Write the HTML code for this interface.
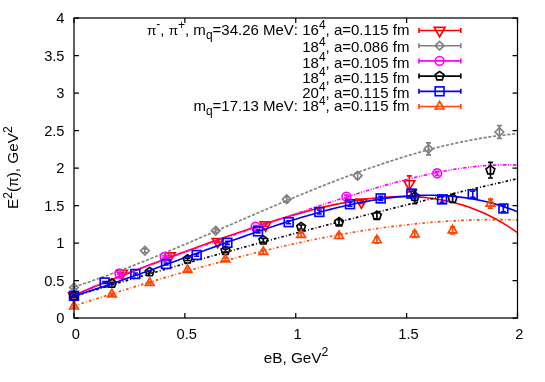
<!DOCTYPE html>
<html><head><meta charset="utf-8"><title>plot</title>
<style>html,body{margin:0;padding:0;background:#fff;}body{width:545px;height:382px;position:relative;overflow:hidden;}</style>
</head><body>
<svg width="545" height="382" viewBox="0 0 545 382" style="position:absolute;left:0;top:0;font-kerning:none" font-family="'Liberation Sans', sans-serif" font-size="14.67px" fill="#000">
<rect x="0" y="0" width="545" height="382" fill="#fff"/>
<path d="M74.0,318.00 h5 M517.5,318.00 h-5 M74.0,280.50 h5 M517.5,280.50 h-5 M74.0,243.00 h5 M517.5,243.00 h-5 M74.0,205.50 h5 M517.5,205.50 h-5 M74.0,168.00 h5 M517.5,168.00 h-5 M74.0,130.50 h5 M517.5,130.50 h-5 M74.0,93.00 h5 M517.5,93.00 h-5 M74.0,55.50 h5 M517.5,55.50 h-5 M74.0,18.00 h5 M517.5,18.00 h-5 M74.00,318.0 v-5 M74.00,18.0 v5 M184.88,318.0 v-5 M184.88,18.0 v5 M295.75,318.0 v-5 M295.75,18.0 v5 M406.62,318.0 v-5 M406.62,18.0 v5 M517.50,318.0 v-5 M517.50,18.0 v5" stroke="#000" stroke-width="1.25" fill="none"/>
<text x="64.5" y="323.20" text-anchor="end">0</text>
<text x="64.5" y="285.70" text-anchor="end">0.5</text>
<text x="64.5" y="248.20" text-anchor="end">1</text>
<text x="64.5" y="210.70" text-anchor="end">1.5</text>
<text x="64.5" y="173.20" text-anchor="end">2</text>
<text x="64.5" y="135.70" text-anchor="end">2.5</text>
<text x="64.5" y="98.20" text-anchor="end">3</text>
<text x="64.5" y="60.70" text-anchor="end">3.5</text>
<text x="64.5" y="23.20" text-anchor="end">4</text>
<text x="75.90" y="339.0" text-anchor="middle">0</text>
<text x="186.78" y="339.0" text-anchor="middle">0.5</text>
<text x="297.65" y="339.0" text-anchor="middle">1</text>
<text x="408.52" y="339.0" text-anchor="middle">1.5</text>
<text x="519.40" y="339.0" text-anchor="middle">2</text>
<text x="296" y="362.5" text-anchor="middle" font-size="15.3px">eB, GeV<tspan font-size="12.24px" dy="-6.3">2</tspan></text>
<text transform="translate(18.3,167.6) rotate(-90)" text-anchor="middle" font-size="15.3px">E<tspan font-size="12.24px" dy="-6.3">2</tspan><tspan dy="6.3">(</tspan><tspan font-size="13.8px">π</tspan>), GeV<tspan font-size="12.24px" dy="-6.3">2</tspan></text>
<text x="409.4" y="35.30" text-anchor="end" font-size="15.0px"><tspan font-size="13.6px">π</tspan><tspan font-size="12.00px" dy="-7.8">-</tspan><tspan dy="7.8">, </tspan><tspan font-size="13.6px">π</tspan><tspan font-size="12.00px" dy="-6.5">+</tspan><tspan dy="6.5">, m</tspan><tspan font-size="12.00px" dy="3.8">q</tspan><tspan dy="-3.8">=34.26 MeV: 16</tspan><tspan font-size="12.00px" dy="-6.6">4</tspan><tspan dy="6.6">, a=0.115 fm</tspan></text>
<path d="M419.0,30.5 L460.8,30.5 M419.0,28.0 v5 M460.8,28.0 v5" stroke="#ff0000" stroke-width="1.65" fill="none"/>
<path d="M434.15,27.37 L445.05,27.37 L439.60,36.77 Z" stroke="#ff0000" stroke-width="1.65" fill="none"/>
<text x="409.4" y="52.30" text-anchor="end" font-size="15.0px">18<tspan font-size="12.00px" dy="-6.6">4</tspan><tspan dy="6.6">, a=0.086 fm</tspan></text>
<path d="M419.0,45.7 L460.8,45.7 M419.0,43.2 v5 M460.8,43.2 v5" stroke="#808080" stroke-width="1.65" fill="none"/>
<path d="M435.30,45.70 L439.60,41.40 L443.90,45.70 L439.60,50.00 Z" stroke="#808080" stroke-width="1.65" fill="none"/>
<text x="409.4" y="67.50" text-anchor="end" font-size="15.0px">18<tspan font-size="12.00px" dy="-6.6">4</tspan><tspan dy="6.6">, a=0.105 fm</tspan></text>
<path d="M419.0,60.9 L460.8,60.9 M419.0,58.4 v5 M460.8,58.4 v5" stroke="#ff00ff" stroke-width="1.65" fill="none"/>
<circle cx="439.60" cy="60.90" r="4.4" stroke="#ff00ff" stroke-width="1.65" fill="none"/>
<text x="409.4" y="82.70" text-anchor="end" font-size="15.0px">18<tspan font-size="12.00px" dy="-6.6">4</tspan><tspan dy="6.6">, a=0.115 fm</tspan></text>
<path d="M419.0,76.1 L460.8,76.1 M419.0,73.6 v5 M460.8,73.6 v5" stroke="#000000" stroke-width="1.65" fill="none"/>
<path d="M439.60,71.50 L435.23,74.68 L436.90,79.82 L442.30,79.82 L443.97,74.68 Z" stroke="#000000" stroke-width="1.65" fill="none"/>
<text x="409.4" y="97.90" text-anchor="end" font-size="15.0px">20<tspan font-size="12.00px" dy="-6.6">4</tspan><tspan dy="6.6">, a=0.115 fm</tspan></text>
<path d="M419.0,91.3 L460.8,91.3 M419.0,88.8 v5 M460.8,88.8 v5" stroke="#0000ff" stroke-width="1.65" fill="none"/>
<rect x="435.20" y="86.90" width="8.8" height="8.8" stroke="#0000ff" stroke-width="1.65" fill="none"/>
<text x="409.4" y="111.30" text-anchor="end" font-size="15.0px">m<tspan font-size="12.00px" dy="3.8">q</tspan><tspan dy="-3.8">=17.13 MeV: 18</tspan><tspan font-size="12.00px" dy="-6.6">4</tspan><tspan dy="6.6">, a=0.115 fm</tspan></text>
<path d="M419.0,106.5 L460.8,106.5 M419.0,104.0 v5 M460.8,104.0 v5" stroke="#ff4500" stroke-width="1.65" fill="none"/>
<path d="M435.20,109.03 L444.00,109.03 L439.60,101.43 Z" stroke="#ff4500" stroke-width="1.65" fill="none"/>
<clipPath id="pc"><rect x="74.0" y="18.0" width="443.5" height="300.0"/></clipPath>
<g clip-path="url(#pc)" stroke-linejoin="miter">
</g>
<path d="M74.00,295.00 L74.00,297.00 M71.50,295.00 L76.50,295.00 M71.50,297.00 L76.50,297.00" stroke="#ff0000" stroke-width="1.65" fill="none"/>
<path d="M68.55,292.87 L79.45,292.87 L74.00,302.27 Z" stroke="#ff0000" stroke-width="1.65" fill="none"/>
<path d="M121.90,272.40 L121.90,274.40 M119.40,272.40 L124.40,272.40 M119.40,274.40 L124.40,274.40" stroke="#ff0000" stroke-width="1.65" fill="none"/>
<path d="M116.45,270.27 L127.35,270.27 L121.90,279.67 Z" stroke="#ff0000" stroke-width="1.65" fill="none"/>
<path d="M169.80,255.00 L169.80,257.00 M167.30,255.00 L172.30,255.00 M167.30,257.00 L172.30,257.00" stroke="#ff0000" stroke-width="1.65" fill="none"/>
<path d="M164.35,252.87 L175.25,252.87 L169.80,262.27 Z" stroke="#ff0000" stroke-width="1.65" fill="none"/>
<path d="M217.70,240.60 L217.70,242.60 M215.20,240.60 L220.20,240.60 M215.20,242.60 L220.20,242.60" stroke="#ff0000" stroke-width="1.65" fill="none"/>
<path d="M212.25,238.47 L223.15,238.47 L217.70,247.87 Z" stroke="#ff0000" stroke-width="1.65" fill="none"/>
<path d="M265.60,223.80 L265.60,226.20 M263.10,223.80 L268.10,223.80 M263.10,226.20 L268.10,226.20" stroke="#ff0000" stroke-width="1.65" fill="none"/>
<path d="M260.15,221.87 L271.05,221.87 L265.60,231.27 Z" stroke="#ff0000" stroke-width="1.65" fill="none"/>
<path d="M361.40,200.70 L361.40,203.70 M358.90,200.70 L363.90,200.70 M358.90,203.70 L363.90,203.70" stroke="#ff0000" stroke-width="1.65" fill="none"/>
<path d="M355.95,199.07 L366.85,199.07 L361.40,208.47 Z" stroke="#ff0000" stroke-width="1.65" fill="none"/>
<path d="M409.30,175.90 L409.30,191.90 M406.80,175.90 L411.80,175.90 M406.80,191.90 L411.80,191.90" stroke="#ff0000" stroke-width="1.65" fill="none"/>
<path d="M403.85,180.77 L414.75,180.77 L409.30,190.17 Z" stroke="#ff0000" stroke-width="1.65" fill="none"/>
<g clip-path="url(#pc)"><path d="M74.00,295.34 L78.44,293.44 L82.87,291.57 L87.31,289.71 L91.74,287.87 L96.17,286.05 L100.61,284.24 L105.05,282.44 L109.48,280.65 L113.91,278.88 L118.35,277.12 L122.78,275.37 L127.22,273.63 L131.66,271.90 L136.09,270.17 L140.52,268.46 L144.96,266.75 L149.40,265.05 L153.83,263.36 L158.26,261.68 L162.70,260.00 L167.13,258.33 L171.57,256.67 L176.00,255.02 L180.44,253.37 L184.88,251.73 L189.31,250.09 L193.75,248.46 L198.18,246.84 L202.61,245.23 L207.05,243.63 L211.48,242.04 L215.92,240.45 L220.36,238.88 L224.79,237.31 L229.23,235.76 L233.66,234.21 L238.09,232.68 L242.53,231.17 L246.97,229.67 L251.40,228.18 L255.84,226.71 L260.27,225.25 L264.70,223.82 L269.14,222.40 L273.58,221.00 L278.01,219.63 L282.45,218.28 L286.88,216.95 L291.31,215.64 L295.75,214.37 L300.19,213.12 L304.62,211.91 L309.06,210.72 L313.49,209.57 L317.93,208.45 L322.36,207.37 L326.80,206.33 L331.23,205.33 L335.66,204.37 L340.10,203.46 L344.53,202.59 L348.97,201.77 L353.41,201.00 L357.84,200.29 L362.28,199.62 L366.71,199.02 L371.15,198.48 L375.58,198.00 L380.02,197.58 L384.45,197.23 L388.88,196.95 L393.32,196.74 L397.75,196.61 L402.19,196.56 L406.62,196.58 L411.06,196.69 L415.50,196.89 L419.93,197.17 L424.37,197.55 L428.80,198.02 L433.24,198.59 L437.67,199.27 L442.11,200.04 L446.54,200.93 L450.97,201.93 L455.41,203.04 L459.84,204.27 L464.28,205.62 L468.72,207.09 L473.15,208.70 L477.59,210.44 L482.02,212.31 L486.46,214.32 L490.89,216.48 L495.33,218.79 L499.76,221.24 L504.19,223.85 L508.63,226.62 L513.07,229.56 L517.50,232.66" stroke="#ff0000" stroke-width="1.65" fill="none"/></g>
<path d="M74.00,286.50 L74.00,288.50 M71.50,286.50 L76.50,286.50 M71.50,288.50 L76.50,288.50" stroke="#808080" stroke-width="1.65" fill="none"/>
<path d="M69.70,287.50 L74.00,283.20 L78.30,287.50 L74.00,291.80 Z" stroke="#808080" stroke-width="1.65" fill="none"/>
<path d="M144.90,248.70 L144.90,252.70 M142.40,248.70 L147.40,248.70 M142.40,252.70 L147.40,252.70" stroke="#808080" stroke-width="1.65" fill="none"/>
<path d="M140.60,250.70 L144.90,246.40 L149.20,250.70 L144.90,255.00 Z" stroke="#808080" stroke-width="1.65" fill="none"/>
<path d="M215.80,228.70 L215.80,232.70 M213.30,228.70 L218.30,228.70 M213.30,232.70 L218.30,232.70" stroke="#808080" stroke-width="1.65" fill="none"/>
<path d="M211.50,230.70 L215.80,226.40 L220.10,230.70 L215.80,235.00 Z" stroke="#808080" stroke-width="1.65" fill="none"/>
<path d="M286.70,196.80 L286.70,201.80 M284.20,196.80 L289.20,196.80 M284.20,201.80 L289.20,201.80" stroke="#808080" stroke-width="1.65" fill="none"/>
<path d="M282.40,199.30 L286.70,195.00 L291.00,199.30 L286.70,203.60 Z" stroke="#808080" stroke-width="1.65" fill="none"/>
<path d="M357.60,172.70 L357.60,178.70 M355.10,172.70 L360.10,172.70 M355.10,178.70 L360.10,178.70" stroke="#808080" stroke-width="1.65" fill="none"/>
<path d="M353.30,175.70 L357.60,171.40 L361.90,175.70 L357.60,180.00 Z" stroke="#808080" stroke-width="1.65" fill="none"/>
<path d="M428.50,142.90 L428.50,154.90 M426.00,142.90 L431.00,142.90 M426.00,154.90 L431.00,154.90" stroke="#808080" stroke-width="1.65" fill="none"/>
<path d="M424.20,148.90 L428.50,144.60 L432.80,148.90 L428.50,153.20 Z" stroke="#808080" stroke-width="1.65" fill="none"/>
<path d="M499.40,125.60 L499.40,138.40 M496.90,125.60 L501.90,125.60 M496.90,138.40 L501.90,138.40" stroke="#808080" stroke-width="1.65" fill="none"/>
<path d="M495.10,132.00 L499.40,127.70 L503.70,132.00 L499.40,136.30 Z" stroke="#808080" stroke-width="1.65" fill="none"/>
<g clip-path="url(#pc)"><path d="M74.00,287.03 L78.44,285.56 L82.87,284.07 L87.31,282.55 L91.74,281.00 L96.17,279.44 L100.61,277.85 L105.05,276.24 L109.48,274.60 L113.91,272.95 L118.35,271.28 L122.78,269.59 L127.22,267.88 L131.66,266.15 L136.09,264.41 L140.52,262.65 L144.96,260.87 L149.40,259.09 L153.83,257.28 L158.26,255.47 L162.70,253.64 L167.13,251.80 L171.57,249.95 L176.00,248.09 L180.44,246.22 L184.88,244.34 L189.31,242.46 L193.75,240.57 L198.18,238.67 L202.61,236.76 L207.05,234.85 L211.48,232.94 L215.92,231.02 L220.36,229.10 L224.79,227.18 L229.23,225.26 L233.66,223.34 L238.09,221.42 L242.53,219.50 L246.97,217.58 L251.40,215.66 L255.84,213.75 L260.27,211.84 L264.70,209.94 L269.14,208.04 L273.58,206.15 L278.01,204.26 L282.45,202.39 L286.88,200.52 L291.31,198.66 L295.75,196.81 L300.19,194.97 L304.62,193.15 L309.06,191.33 L313.49,189.53 L317.93,187.75 L322.36,185.97 L326.80,184.22 L331.23,182.47 L335.66,180.75 L340.10,179.04 L344.53,177.35 L348.97,175.68 L353.41,174.03 L357.84,172.40 L362.28,170.80 L366.71,169.21 L371.15,167.65 L375.58,166.11 L380.02,164.59 L384.45,163.10 L388.88,161.63 L393.32,160.19 L397.75,158.78 L402.19,157.40 L406.62,156.04 L411.06,154.72 L415.50,153.42 L419.93,152.16 L424.37,150.92 L428.80,149.72 L433.24,148.56 L437.67,147.42 L442.11,146.32 L446.54,145.26 L450.97,144.23 L455.41,143.24 L459.84,142.29 L464.28,141.37 L468.72,140.50 L473.15,139.66 L477.59,138.86 L482.02,138.11 L486.46,137.40 L490.89,136.73 L495.33,136.10 L499.76,135.52 L504.19,134.98 L508.63,134.49 L513.07,134.05 L517.50,133.65" stroke="#808080" stroke-width="1.65" fill="none" stroke-dasharray="3.1,1.7"/></g>
<path d="M74.00,295.00 L74.00,297.00 M71.50,295.00 L76.50,295.00 M71.50,297.00 L76.50,297.00" stroke="#ff00ff" stroke-width="1.65" fill="none"/>
<circle cx="74.00" cy="296.00" r="4.4" stroke="#ff00ff" stroke-width="1.65" fill="none"/>
<path d="M119.40,272.40 L119.40,274.40 M116.90,272.40 L121.90,272.40 M116.90,274.40 L121.90,274.40" stroke="#ff00ff" stroke-width="1.65" fill="none"/>
<circle cx="119.40" cy="273.40" r="4.4" stroke="#ff00ff" stroke-width="1.65" fill="none"/>
<path d="M164.80,255.80 L164.80,257.80 M162.30,255.80 L167.30,255.80 M162.30,257.80 L167.30,257.80" stroke="#ff00ff" stroke-width="1.65" fill="none"/>
<circle cx="164.80" cy="256.80" r="4.4" stroke="#ff00ff" stroke-width="1.65" fill="none"/>
<path d="M255.60,225.60 L255.60,228.00 M253.10,225.60 L258.10,225.60 M253.10,228.00 L258.10,228.00" stroke="#ff00ff" stroke-width="1.65" fill="none"/>
<circle cx="255.60" cy="226.80" r="4.4" stroke="#ff00ff" stroke-width="1.65" fill="none"/>
<path d="M346.40,195.10 L346.40,198.10 M343.90,195.10 L348.90,195.10 M343.90,198.10 L348.90,198.10" stroke="#ff00ff" stroke-width="1.65" fill="none"/>
<circle cx="346.40" cy="196.60" r="4.4" stroke="#ff00ff" stroke-width="1.65" fill="none"/>
<path d="M437.20,171.20 L437.20,175.20 M434.70,171.20 L439.70,171.20 M434.70,175.20 L439.70,175.20" stroke="#ff00ff" stroke-width="1.65" fill="none"/>
<circle cx="437.20" cy="173.20" r="4.4" stroke="#ff00ff" stroke-width="1.65" fill="none"/>
<g clip-path="url(#pc)"><path d="M74.00,295.40 L78.44,293.41 L82.87,291.45 L87.31,289.52 L91.74,287.62 L96.17,285.75 L100.61,283.91 L105.05,282.09 L109.48,280.29 L113.91,278.52 L118.35,276.76 L122.78,275.02 L127.22,273.31 L131.66,271.61 L136.09,269.92 L140.52,268.25 L144.96,266.59 L149.40,264.95 L153.83,263.32 L158.26,261.69 L162.70,260.08 L167.13,258.48 L171.57,256.89 L176.00,255.30 L180.44,253.72 L184.88,252.14 L189.31,250.58 L193.75,249.01 L198.18,247.45 L202.61,245.90 L207.05,244.35 L211.48,242.80 L215.92,241.26 L220.36,239.71 L224.79,238.17 L229.23,236.64 L233.66,235.10 L238.09,233.56 L242.53,232.03 L246.97,230.50 L251.40,228.97 L255.84,227.44 L260.27,225.92 L264.70,224.39 L269.14,222.87 L273.58,221.35 L278.01,219.83 L282.45,218.32 L286.88,216.80 L291.31,215.29 L295.75,213.79 L300.19,212.29 L304.62,210.79 L309.06,209.30 L313.49,207.82 L317.93,206.34 L322.36,204.87 L326.80,203.40 L331.23,201.95 L335.66,200.50 L340.10,199.07 L344.53,197.64 L348.97,196.23 L353.41,194.83 L357.84,193.45 L362.28,192.08 L366.71,190.73 L371.15,189.39 L375.58,188.08 L380.02,186.78 L384.45,185.50 L388.88,184.25 L393.32,183.02 L397.75,181.82 L402.19,180.64 L406.62,179.49 L411.06,178.37 L415.50,177.28 L419.93,176.22 L424.37,175.20 L428.80,174.22 L433.24,173.27 L437.67,172.36 L442.11,171.50 L446.54,170.67 L450.97,169.89 L455.41,169.16 L459.84,168.48 L464.28,167.85 L468.72,167.28 L473.15,166.76 L477.59,166.29 L482.02,165.89 L486.46,165.55 L490.89,165.27 L495.33,165.06 L499.76,164.92 L504.19,164.85 L508.63,164.86 L513.07,164.94 L517.50,165.10" stroke="#ff00ff" stroke-width="1.65" fill="none" stroke-dasharray="3.6,1.5,1,1.5,1,1.4"/></g>
<path d="M74.00,295.00 L74.00,297.00 M71.50,295.00 L76.50,295.00 M71.50,297.00 L76.50,297.00" stroke="#000000" stroke-width="1.65" fill="none"/>
<path d="M74.00,291.40 L69.63,294.58 L71.30,299.72 L76.70,299.72 L78.37,294.58 Z" stroke="#000000" stroke-width="1.65" fill="none"/>
<path d="M111.86,282.40 L111.86,284.40 M109.36,282.40 L114.36,282.40 M109.36,284.40 L114.36,284.40" stroke="#000000" stroke-width="1.65" fill="none"/>
<path d="M111.86,278.80 L107.49,281.98 L109.16,287.12 L114.56,287.12 L116.23,281.98 Z" stroke="#000000" stroke-width="1.65" fill="none"/>
<path d="M149.72,271.00 L149.72,273.00 M147.22,271.00 L152.22,271.00 M147.22,273.00 L152.22,273.00" stroke="#000000" stroke-width="1.65" fill="none"/>
<path d="M149.72,267.40 L145.35,270.58 L147.02,275.72 L152.42,275.72 L154.09,270.58 Z" stroke="#000000" stroke-width="1.65" fill="none"/>
<path d="M187.58,258.10 L187.58,260.50 M185.08,258.10 L190.08,258.10 M185.08,260.50 L190.08,260.50" stroke="#000000" stroke-width="1.65" fill="none"/>
<path d="M187.58,254.70 L183.21,257.88 L184.88,263.02 L190.28,263.02 L191.95,257.88 Z" stroke="#000000" stroke-width="1.65" fill="none"/>
<path d="M225.44,249.10 L225.44,252.10 M222.94,249.10 L227.94,249.10 M222.94,252.10 L227.94,252.10" stroke="#000000" stroke-width="1.65" fill="none"/>
<path d="M225.44,246.00 L221.07,249.18 L222.74,254.32 L228.14,254.32 L229.81,249.18 Z" stroke="#000000" stroke-width="1.65" fill="none"/>
<path d="M263.30,238.30 L263.30,242.30 M260.80,238.30 L265.80,238.30 M260.80,242.30 L265.80,242.30" stroke="#000000" stroke-width="1.65" fill="none"/>
<path d="M263.30,235.70 L258.93,238.88 L260.60,244.02 L266.00,244.02 L267.67,238.88 Z" stroke="#000000" stroke-width="1.65" fill="none"/>
<path d="M301.16,225.00 L301.16,229.00 M298.66,225.00 L303.66,225.00 M298.66,229.00 L303.66,229.00" stroke="#000000" stroke-width="1.65" fill="none"/>
<path d="M301.16,222.40 L296.79,225.58 L298.46,230.72 L303.86,230.72 L305.53,225.58 Z" stroke="#000000" stroke-width="1.65" fill="none"/>
<path d="M339.02,219.70 L339.02,224.70 M336.52,219.70 L341.52,219.70 M336.52,224.70 L341.52,224.70" stroke="#000000" stroke-width="1.65" fill="none"/>
<path d="M339.02,217.60 L334.65,220.78 L336.32,225.92 L341.72,225.92 L343.39,220.78 Z" stroke="#000000" stroke-width="1.65" fill="none"/>
<path d="M376.88,212.70 L376.88,218.70 M374.38,212.70 L379.38,212.70 M374.38,218.70 L379.38,218.70" stroke="#000000" stroke-width="1.65" fill="none"/>
<path d="M376.88,211.10 L372.51,214.28 L374.18,219.42 L379.58,219.42 L381.25,214.28 Z" stroke="#000000" stroke-width="1.65" fill="none"/>
<path d="M414.74,189.70 L414.74,203.70 M412.24,189.70 L417.24,189.70 M412.24,203.70 L417.24,203.70" stroke="#000000" stroke-width="1.65" fill="none"/>
<path d="M414.74,192.10 L410.37,195.28 L412.04,200.42 L417.44,200.42 L419.11,195.28 Z" stroke="#000000" stroke-width="1.65" fill="none"/>
<path d="M452.60,194.50 L452.60,202.50 M450.10,194.50 L455.10,194.50 M450.10,202.50 L455.10,202.50" stroke="#000000" stroke-width="1.65" fill="none"/>
<path d="M452.60,193.90 L448.23,197.08 L449.90,202.22 L455.30,202.22 L456.97,197.08 Z" stroke="#000000" stroke-width="1.65" fill="none"/>
<path d="M490.46,162.40 L490.46,178.00 M487.96,162.40 L492.96,162.40 M487.96,178.00 L492.96,178.00" stroke="#000000" stroke-width="1.65" fill="none"/>
<path d="M490.46,165.60 L486.09,168.78 L487.76,173.92 L493.16,173.92 L494.83,168.78 Z" stroke="#000000" stroke-width="1.65" fill="none"/>
<g clip-path="url(#pc)"><path d="M74.00,296.29 L78.44,294.94 L82.87,293.60 L87.31,292.26 L91.74,290.93 L96.17,289.60 L100.61,288.27 L105.05,286.94 L109.48,285.62 L113.91,284.30 L118.35,282.99 L122.78,281.68 L127.22,280.37 L131.66,279.06 L136.09,277.76 L140.52,276.46 L144.96,275.17 L149.40,273.88 L153.83,272.59 L158.26,271.31 L162.70,270.03 L167.13,268.75 L171.57,267.48 L176.00,266.21 L180.44,264.94 L184.88,263.68 L189.31,262.42 L193.75,261.16 L198.18,259.91 L202.61,258.66 L207.05,257.41 L211.48,256.17 L215.92,254.93 L220.36,253.69 L224.79,252.46 L229.23,251.23 L233.66,250.01 L238.09,248.78 L242.53,247.57 L246.97,246.35 L251.40,245.14 L255.84,243.93 L260.27,242.72 L264.70,241.52 L269.14,240.32 L273.58,239.13 L278.01,237.94 L282.45,236.75 L286.88,235.57 L291.31,234.39 L295.75,233.21 L300.19,232.03 L304.62,230.86 L309.06,229.70 L313.49,228.53 L317.93,227.37 L322.36,226.21 L326.80,225.06 L331.23,223.91 L335.66,222.76 L340.10,221.62 L344.53,220.48 L348.97,219.34 L353.41,218.21 L357.84,217.08 L362.28,215.96 L366.71,214.83 L371.15,213.71 L375.58,212.60 L380.02,211.48 L384.45,210.38 L388.88,209.27 L393.32,208.17 L397.75,207.07 L402.19,205.97 L406.62,204.88 L411.06,203.79 L415.50,202.71 L419.93,201.63 L424.37,200.55 L428.80,199.47 L433.24,198.40 L437.67,197.34 L442.11,196.27 L446.54,195.21 L450.97,194.15 L455.41,193.10 L459.84,192.05 L464.28,191.00 L468.72,189.96 L473.15,188.92 L477.59,187.88 L482.02,186.85 L486.46,185.82 L490.89,184.79 L495.33,183.77 L499.76,182.75 L504.19,181.73 L508.63,180.72 L513.07,179.71 L517.50,178.70" stroke="#000000" stroke-width="1.65" fill="none" stroke-dasharray="2.6,2.1,0.9,2.1"/></g>
<path d="M74.00,294.80 L74.00,296.80 M71.50,294.80 L76.50,294.80 M71.50,296.80 L76.50,296.80" stroke="#0000ff" stroke-width="1.65" fill="none"/>
<rect x="69.60" y="291.40" width="8.8" height="8.8" stroke="#0000ff" stroke-width="1.65" fill="none"/>
<path d="M104.67,281.50 L104.67,283.50 M102.17,281.50 L107.17,281.50 M102.17,283.50 L107.17,283.50" stroke="#0000ff" stroke-width="1.65" fill="none"/>
<rect x="100.27" y="278.10" width="8.8" height="8.8" stroke="#0000ff" stroke-width="1.65" fill="none"/>
<path d="M135.34,273.00 L135.34,275.00 M132.84,273.00 L137.84,273.00 M132.84,275.00 L137.84,275.00" stroke="#0000ff" stroke-width="1.65" fill="none"/>
<rect x="130.94" y="269.60" width="8.8" height="8.8" stroke="#0000ff" stroke-width="1.65" fill="none"/>
<path d="M166.01,263.00 L166.01,265.00 M163.51,263.00 L168.51,263.00 M163.51,265.00 L168.51,265.00" stroke="#0000ff" stroke-width="1.65" fill="none"/>
<rect x="161.61" y="259.60" width="8.8" height="8.8" stroke="#0000ff" stroke-width="1.65" fill="none"/>
<path d="M196.68,253.80 L196.68,256.20 M194.18,253.80 L199.18,253.80 M194.18,256.20 L199.18,256.20" stroke="#0000ff" stroke-width="1.65" fill="none"/>
<rect x="192.28" y="250.60" width="8.8" height="8.8" stroke="#0000ff" stroke-width="1.65" fill="none"/>
<path d="M227.35,241.30 L227.35,244.30 M224.85,241.30 L229.85,241.30 M224.85,244.30 L229.85,244.30" stroke="#0000ff" stroke-width="1.65" fill="none"/>
<rect x="222.95" y="238.40" width="8.8" height="8.8" stroke="#0000ff" stroke-width="1.65" fill="none"/>
<path d="M258.02,229.90 L258.02,232.90 M255.52,229.90 L260.52,229.90 M255.52,232.90 L260.52,232.90" stroke="#0000ff" stroke-width="1.65" fill="none"/>
<rect x="253.62" y="227.00" width="8.8" height="8.8" stroke="#0000ff" stroke-width="1.65" fill="none"/>
<path d="M288.69,220.70 L288.69,223.70 M286.19,220.70 L291.19,220.70 M286.19,223.70 L291.19,223.70" stroke="#0000ff" stroke-width="1.65" fill="none"/>
<rect x="284.29" y="217.80" width="8.8" height="8.8" stroke="#0000ff" stroke-width="1.65" fill="none"/>
<path d="M319.36,210.00 L319.36,214.00 M316.86,210.00 L321.86,210.00 M316.86,214.00 L321.86,214.00" stroke="#0000ff" stroke-width="1.65" fill="none"/>
<rect x="314.96" y="207.60" width="8.8" height="8.8" stroke="#0000ff" stroke-width="1.65" fill="none"/>
<path d="M350.03,202.20 L350.03,206.20 M347.53,202.20 L352.53,202.20 M347.53,206.20 L352.53,206.20" stroke="#0000ff" stroke-width="1.65" fill="none"/>
<rect x="345.63" y="199.80" width="8.8" height="8.8" stroke="#0000ff" stroke-width="1.65" fill="none"/>
<path d="M380.70,196.40 L380.70,200.40 M378.20,196.40 L383.20,196.40 M378.20,200.40 L383.20,200.40" stroke="#0000ff" stroke-width="1.65" fill="none"/>
<rect x="376.30" y="194.00" width="8.8" height="8.8" stroke="#0000ff" stroke-width="1.65" fill="none"/>
<path d="M411.37,191.10 L411.37,196.10 M408.87,191.10 L413.87,191.10 M408.87,196.10 L413.87,196.10" stroke="#0000ff" stroke-width="1.65" fill="none"/>
<rect x="406.97" y="189.20" width="8.8" height="8.8" stroke="#0000ff" stroke-width="1.65" fill="none"/>
<path d="M442.04,196.60 L442.04,202.20 M439.54,196.60 L444.54,196.60 M439.54,202.20 L444.54,202.20" stroke="#0000ff" stroke-width="1.65" fill="none"/>
<rect x="437.64" y="195.00" width="8.8" height="8.8" stroke="#0000ff" stroke-width="1.65" fill="none"/>
<path d="M472.71,191.20 L472.71,197.20 M470.21,191.20 L475.21,191.20 M470.21,197.20 L475.21,197.20" stroke="#0000ff" stroke-width="1.65" fill="none"/>
<rect x="468.31" y="189.80" width="8.8" height="8.8" stroke="#0000ff" stroke-width="1.65" fill="none"/>
<path d="M503.38,205.30 L503.38,211.70 M500.88,205.30 L505.88,205.30 M500.88,211.70 L505.88,211.70" stroke="#0000ff" stroke-width="1.65" fill="none"/>
<rect x="498.98" y="204.10" width="8.8" height="8.8" stroke="#0000ff" stroke-width="1.65" fill="none"/>
<g clip-path="url(#pc)"><path d="M74.00,296.07 L78.44,294.67 L82.87,293.24 L87.31,291.81 L91.74,290.36 L96.17,288.90 L100.61,287.42 L105.05,285.93 L109.48,284.44 L113.91,282.93 L118.35,281.41 L122.78,279.88 L127.22,278.34 L131.66,276.79 L136.09,275.23 L140.52,273.66 L144.96,272.09 L149.40,270.51 L153.83,268.92 L158.26,267.33 L162.70,265.73 L167.13,264.12 L171.57,262.52 L176.00,260.90 L180.44,259.29 L184.88,257.67 L189.31,256.06 L193.75,254.44 L198.18,252.82 L202.61,251.21 L207.05,249.59 L211.48,247.98 L215.92,246.37 L220.36,244.77 L224.79,243.17 L229.23,241.58 L233.66,240.00 L238.09,238.42 L242.53,236.86 L246.97,235.30 L251.40,233.76 L255.84,232.22 L260.27,230.70 L264.70,229.20 L269.14,227.71 L273.58,226.24 L278.01,224.78 L282.45,223.35 L286.88,221.93 L291.31,220.54 L295.75,219.17 L300.19,217.82 L304.62,216.50 L309.06,215.20 L313.49,213.93 L317.93,212.69 L322.36,211.48 L326.80,210.30 L331.23,209.15 L335.66,208.04 L340.10,206.97 L344.53,205.93 L348.97,204.93 L353.41,203.97 L357.84,203.05 L362.28,202.17 L366.71,201.34 L371.15,200.56 L375.58,199.82 L380.02,199.13 L384.45,198.49 L388.88,197.91 L393.32,197.37 L397.75,196.90 L402.19,196.48 L406.62,196.12 L411.06,195.82 L415.50,195.59 L419.93,195.42 L424.37,195.31 L428.80,195.27 L433.24,195.30 L437.67,195.41 L442.11,195.58 L446.54,195.84 L450.97,196.17 L455.41,196.57 L459.84,197.06 L464.28,197.63 L468.72,198.29 L473.15,199.03 L477.59,199.87 L482.02,200.79 L486.46,201.81 L490.89,202.92 L495.33,204.12 L499.76,205.43 L504.19,206.84 L508.63,208.35 L513.07,209.97 L517.50,211.70" stroke="#0000ff" stroke-width="1.65" fill="none"/></g>
<path d="M74.00,305.50 L74.00,307.50 M71.50,305.50 L76.50,305.50 M71.50,307.50 L76.50,307.50" stroke="#ff4500" stroke-width="1.65" fill="none"/>
<path d="M69.60,309.03 L78.40,309.03 L74.00,301.43 Z" stroke="#ff4500" stroke-width="1.65" fill="none"/>
<path d="M111.86,293.30 L111.86,295.30 M109.36,293.30 L114.36,293.30 M109.36,295.30 L114.36,295.30" stroke="#ff4500" stroke-width="1.65" fill="none"/>
<path d="M107.46,296.83 L116.26,296.83 L111.86,289.23 Z" stroke="#ff4500" stroke-width="1.65" fill="none"/>
<path d="M149.72,282.00 L149.72,284.00 M147.22,282.00 L152.22,282.00 M147.22,284.00 L152.22,284.00" stroke="#ff4500" stroke-width="1.65" fill="none"/>
<path d="M145.32,285.53 L154.12,285.53 L149.72,277.93 Z" stroke="#ff4500" stroke-width="1.65" fill="none"/>
<path d="M187.58,268.40 L187.58,271.40 M185.08,268.40 L190.08,268.40 M185.08,271.40 L190.08,271.40" stroke="#ff4500" stroke-width="1.65" fill="none"/>
<path d="M183.18,272.43 L191.98,272.43 L187.58,264.83 Z" stroke="#ff4500" stroke-width="1.65" fill="none"/>
<path d="M225.44,257.90 L225.44,260.90 M222.94,257.90 L227.94,257.90 M222.94,260.90 L227.94,260.90" stroke="#ff4500" stroke-width="1.65" fill="none"/>
<path d="M221.04,261.93 L229.84,261.93 L225.44,254.33 Z" stroke="#ff4500" stroke-width="1.65" fill="none"/>
<path d="M263.30,250.00 L263.30,254.00 M260.80,250.00 L265.80,250.00 M260.80,254.00 L265.80,254.00" stroke="#ff4500" stroke-width="1.65" fill="none"/>
<path d="M258.90,254.53 L267.70,254.53 L263.30,246.93 Z" stroke="#ff4500" stroke-width="1.65" fill="none"/>
<path d="M301.16,233.00 L301.16,237.00 M298.66,233.00 L303.66,233.00 M298.66,237.00 L303.66,237.00" stroke="#ff4500" stroke-width="1.65" fill="none"/>
<path d="M296.76,237.53 L305.56,237.53 L301.16,229.93 Z" stroke="#ff4500" stroke-width="1.65" fill="none"/>
<path d="M339.02,233.50 L339.02,238.50 M336.52,233.50 L341.52,233.50 M336.52,238.50 L341.52,238.50" stroke="#ff4500" stroke-width="1.65" fill="none"/>
<path d="M334.62,238.53 L343.42,238.53 L339.02,230.93 Z" stroke="#ff4500" stroke-width="1.65" fill="none"/>
<path d="M376.88,237.20 L376.88,243.20 M374.38,237.20 L379.38,237.20 M374.38,243.20 L379.38,243.20" stroke="#ff4500" stroke-width="1.65" fill="none"/>
<path d="M372.48,242.73 L381.28,242.73 L376.88,235.13 Z" stroke="#ff4500" stroke-width="1.65" fill="none"/>
<path d="M414.74,231.40 L414.74,237.40 M412.24,231.40 L417.24,231.40 M412.24,237.40 L417.24,237.40" stroke="#ff4500" stroke-width="1.65" fill="none"/>
<path d="M410.34,236.93 L419.14,236.93 L414.74,229.33 Z" stroke="#ff4500" stroke-width="1.65" fill="none"/>
<path d="M452.60,226.80 L452.60,233.80 M450.10,226.80 L455.10,226.80 M450.10,233.80 L455.10,233.80" stroke="#ff4500" stroke-width="1.65" fill="none"/>
<path d="M448.20,232.83 L457.00,232.83 L452.60,225.23 Z" stroke="#ff4500" stroke-width="1.65" fill="none"/>
<path d="M490.46,199.10 L490.46,208.10 M487.96,199.10 L492.96,199.10 M487.96,208.10 L492.96,208.10" stroke="#ff4500" stroke-width="1.65" fill="none"/>
<path d="M486.06,206.13 L494.86,206.13 L490.46,198.53 Z" stroke="#ff4500" stroke-width="1.65" fill="none"/>
<g clip-path="url(#pc)"><path d="M74.00,305.91 L78.44,304.49 L82.87,303.07 L87.31,301.65 L91.74,300.24 L96.17,298.83 L100.61,297.43 L105.05,296.02 L109.48,294.63 L113.91,293.23 L118.35,291.85 L122.78,290.47 L127.22,289.09 L131.66,287.72 L136.09,286.35 L140.52,284.99 L144.96,283.64 L149.40,282.30 L153.83,280.96 L158.26,279.63 L162.70,278.31 L167.13,276.99 L171.57,275.68 L176.00,274.38 L180.44,273.09 L184.88,271.81 L189.31,270.54 L193.75,269.28 L198.18,268.02 L202.61,266.78 L207.05,265.55 L211.48,264.32 L215.92,263.11 L220.36,261.91 L224.79,260.72 L229.23,259.54 L233.66,258.38 L238.09,257.22 L242.53,256.08 L246.97,254.95 L251.40,253.83 L255.84,252.73 L260.27,251.64 L264.70,250.56 L269.14,249.50 L273.58,248.45 L278.01,247.41 L282.45,246.39 L286.88,245.39 L291.31,244.40 L295.75,243.42 L300.19,242.46 L304.62,241.52 L309.06,240.59 L313.49,239.68 L317.93,238.78 L322.36,237.91 L326.80,237.05 L331.23,236.20 L335.66,235.38 L340.10,234.57 L344.53,233.78 L348.97,233.01 L353.41,232.26 L357.84,231.53 L362.28,230.81 L366.71,230.12 L371.15,229.44 L375.58,228.79 L380.02,228.15 L384.45,227.54 L388.88,226.95 L393.32,226.38 L397.75,225.83 L402.19,225.30 L406.62,224.79 L411.06,224.30 L415.50,223.84 L419.93,223.40 L424.37,222.98 L428.80,222.59 L433.24,222.22 L437.67,221.87 L442.11,221.55 L446.54,221.25 L450.97,220.98 L455.41,220.73 L459.84,220.50 L464.28,220.30 L468.72,220.13 L473.15,219.98 L477.59,219.86 L482.02,219.76 L486.46,219.69 L490.89,219.65 L495.33,219.63 L499.76,219.64 L504.19,219.68 L508.63,219.75 L513.07,219.84 L517.50,219.97" stroke="#ff4500" stroke-width="1.65" fill="none" stroke-dasharray="2.6,2.1,0.8,2.3"/></g>
<rect x="74.0" y="18.0" width="443.5" height="300.0" fill="none" stroke="#000" stroke-width="1.25"/>
</svg>
</body></html>
